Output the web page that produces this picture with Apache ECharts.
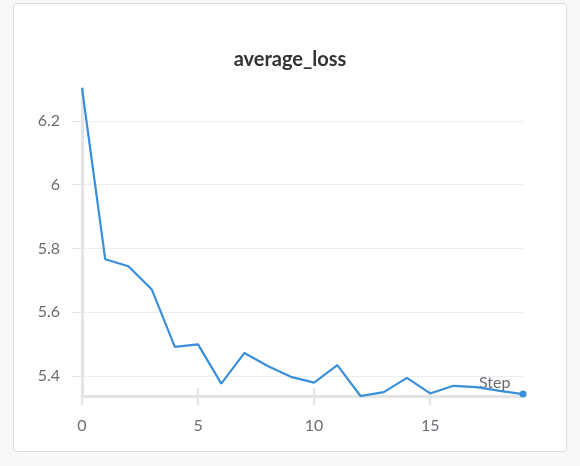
<!DOCTYPE html>
<html>
<head>
<meta charset="utf-8">
<script src="https://cdn.jsdelivr.net/npm/echarts@6/dist/echarts.min.js"></script>
<style>
  html, body { margin: 0; padding: 0; background: #f8f8f8; }
  #card {
    position: absolute; left: 13px; top: 3px; width: 552px; height: 447px;
    background: #fff; border: 1px solid #dcdcdc; border-radius: 4px;
  }
  #chart { position: absolute; left: 0; top: 0; width: 580px; height: 466px; }
</style>
</head>
<body>
<div id="card"></div>
<div id="chart"></div>
<script>
// step index on x, loss on y
var steps = [0, 1, 2, 3, 4, 5, 6, 7, 8, 9, 10, 11, 12, 13, 14, 15, 16, 17, 18, 19]
var averageLoss = [6.303, 5.766, 5.744, 5.672, 5.491, 5.499, 5.376, 5.472, 5.431, 5.397,
  5.379, 5.434, 5.337, 5.349, 5.394, 5.345, 5.369, 5.365, 5.353, 5.343]
var yTicks = [5.4, 5.6, 5.8, 6, 6.2]
var xTicks = [0, 5, 10, 15]

var chart = echarts.init(document.getElementById('chart'))
var font = 'Lato, "Noto Sans", sans-serif'
var axisGray = '#e4e4e4'
var labelGray = '#6b6b73'
var last = steps.length - 1

chart.setOption({
  animation: false,
  textStyle: { fontFamily: font },
  title: {
    text: 'average_loss',
    left: 'center',
    top: 45,
    textStyle: { fontFamily: font, fontSize: 20, fontWeight: 'bold', color: '#333' }
  },
  grid: { left: 82, right: 57, top: 88, bottom: 70 },
  xAxis: [{
    type: 'value',
    min: 0,
    max: 19,
    name: 'Step',
    nameLocation: 'end',
    nameGap: -44,
    nameTextStyle: { fontFamily: font, fontSize: 16, color: labelGray, verticalAlign: 'bottom', padding: [0, 0, 5, 0] },
    axisLine: { lineStyle: { color: axisGray, width: 3 } },
    axisTick: { customValues: xTicks, length: 9, lineStyle: { color: axisGray, width: 2 } },
    axisLabel: { customValues: xTicks, margin: 22, fontSize: 16, color: labelGray, fontFamily: font },
    splitLine: { show: false }
  }, {
    // inner half of the x ticks
    type: 'value',
    min: 0,
    max: 19,
    position: 'bottom',
    axisLine: { show: false },
    axisTick: { customValues: [5, 10, 15], inside: true, length: 8, lineStyle: { color: axisGray, width: 2 } },
    axisLabel: { show: false },
    splitLine: { show: false }
  }],
  yAxis: {
    type: 'value',
    min: 'dataMin',
    max: 'dataMax',
    axisLine: { show: true, lineStyle: { color: axisGray, width: 3 } },
    axisTick: { show: true, customValues: yTicks, length: 10, lineStyle: { color: axisGray, width: 1 } },
    axisLabel: { customValues: yTicks, margin: 22, fontSize: 16, color: labelGray, fontFamily: font },
    splitLine: { show: true, lineStyle: { color: '#eeeeee', width: 1 } }
  },
  series: [{
    type: 'line',
    data: steps.map(function (s, i) { return [s, averageLoss[i]] }),
    showSymbol: true,
    showAllSymbol: true,
    symbol: 'circle',
    symbolSize: function (v, p) { return p.dataIndex === last ? 7 : 0 },
    itemStyle: { color: '#3a8fdb' },
    lineStyle: { color: '#3a8fdb', width: 2.2 }
  }]
})
</script>
</body>
</html>
